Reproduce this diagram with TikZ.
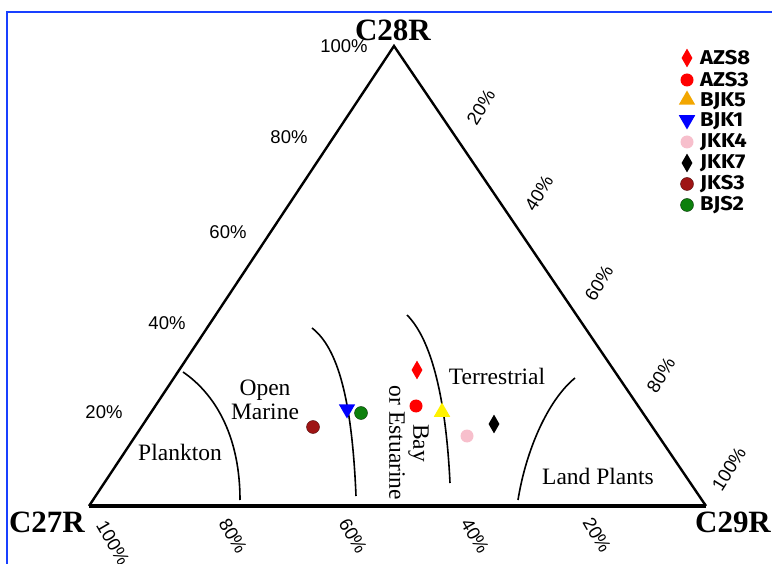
\documentclass[tikz,border=0pt]{standalone}
\usepackage{fontspec}
\setmainfont{Liberation Serif}
\newfontfamily\pctfont{Liberation Sans}
\newfontfamily\lgdfont[FakeStretch=1.1]{Fira Sans}
\usepackage{tikz}
\usetikzlibrary{positioning, shapes.geometric}
\definecolor{frameblue}{rgb}{0.1,0.25,1.0}
\definecolor{darkred}{rgb}{0.62,0.08,0.08}
\definecolor{mygreen}{rgb}{0.05,0.5,0.05}
\definecolor{myorange}{rgb}{0.95,0.65,0.0}
\definecolor{mypink}{rgb}{0.97,0.75,0.8}
\tikzstyle{vert}=[%
      font=\fontsize{31}{33}\selectfont\bfseries, inner sep=0pt
]
\tikzstyle{pct}=[%
      font=\pctfont\fontsize{18.5}{20}\selectfont, inner sep=0pt
]
\tikzstyle{fld}=[%
      font=\fontsize{23.5}{24}\selectfont, inner sep=0pt, align=center
]
\tikzstyle{lgd}=[%
      font=\lgdfont\bfseries\fontsize{20}{21}\selectfont, inner sep=0pt, anchor=west
]
\tikzstyle{dot}=[circle, inner sep=0pt, minimum size=13pt, draw=none]
\tikzstyle{rhomb}=[diamond, inner sep=0pt, minimum width=11pt, minimum height=19pt, draw=none]
\tikzstyle{tri}=[regular polygon, regular polygon sides=3, inner sep=0pt, minimum size=19pt, draw=none]
\tikzstyle{bound}=[black, line width=1.6pt]

\begin{document}
\begin{tikzpicture}[x=1pt, y=-1pt]
    \useasboundingbox (0,0) rectangle (772,564);
    \draw[frameblue, line width=2pt] (7,564) -- (7,12) -- (772,12);

    % corners
    \coordinate (a27) at (89,506);
    \coordinate (a29) at (706,506);
    \coordinate (a28) at (394,46);
    \draw[line width=2.4pt, line join=miter] (a29) -- (a28) -- (a27);
    \draw[line width=3.4pt] (a27) -- (a29);

    \node[vert] (c28r) at (393,30) {C28R};
    \node[vert] (c27r) at (47,522) {C27R};
    \node[vert] (c29r) at (733,522) {C29R};

    % axis labels
    \node[pct] (l100) at (344,46) {100\%};
    \node[pct] (l80) at (289,137) {80\%};
    \node[pct] (l60) at (228,232) {60\%};
    \node[pct] (l40) at (167,323) {40\%};
    \node[pct] (l20) at (104,412) {20\%};

    \node[pct, rotate=58] (r20) at (481,107) {20\%};
    \node[pct, rotate=58] (r40) at (539,193) {40\%};
    \node[pct, rotate=58] (r60) at (599,283) {60\%};
    \node[pct, rotate=58] (r80) at (661,375) {80\%};
    \node[pct, rotate=58] (r100) at (729,469) {100\%};

    \node[pct, rotate=-60] (b100) at (113,543) {100\%};
    \node[pct, rotate=-60] (b80) at (233,536) {80\%};
    \node[pct, rotate=-60] (b60) at (353,536) {60\%};
    \node[pct, rotate=-60] (b40) at (475,536) {40\%};
    \node[pct, rotate=-60] (b20) at (597,535) {20\%};

    % field boundaries
    \draw[bound] (183,372) .. controls (218,396) and (240,440) .. (240,500);
    \draw[bound] (312,328) .. controls (338,348) and (352,400) .. (356,496);
    \draw[bound] (407,315) .. controls (432,340) and (446,400) .. (450,483);
    \draw[bound] (575,378) .. controls (548,400) and (526,450) .. (518,500);

    \node[fld] (plankton) at (180,452) {Plankton};
    \node[fld] (openmar) at (265,400) {Open\\Marine};
    \node[fld] (terr) at (497,376) {Terrestrial};
    \node[fld, rotate=-90] (bay) at (409,443) {Bay\\or Estuarine};
    \node[fld] (landpl) at (598,476) {Land Plants};

    % samples
    \node[rhomb, fill=red] (azs8) at (417,370) {};
    \node[dot, fill=red] (azs3) at (416,406) {};
    \node[tri, fill=yellow] (bjk5) at (442,412) {};
    \node[tri, shape border rotate=180, fill=blue] (bjk1) at (347,409) {};
    \node[dot, fill=mygreen, draw=black!60!mygreen, thin] (bjs2) at (361,413) {};
    \node[dot, fill=darkred, draw=black!50!darkred, thin] (jks3) at (313,427) {};
    \node[dot, fill=mypink] (jkk4) at (467,436) {};
    \node[rhomb, fill=black] (jkk7) at (494,424) {};

    % legend
    \node[rhomb, fill=red] (mazs8) at (687,58) {};
    \node[dot, fill=red] (mazs3) at (687,80) {};
    \node[tri, fill=myorange] (mbjk5) at (687,100) {};
    \node[tri, shape border rotate=180, fill=blue] (mbjk1) at (687,120) {};
    \node[dot, fill=mypink] (mjkk4) at (687,142) {};
    \node[rhomb, fill=black] (mjkk7) at (687,163) {};
    \node[dot, fill=darkred, draw=black!50!darkred, thin] (mjks3) at (687,184) {};
    \node[dot, fill=mygreen, draw=black!60!mygreen, thin] (mbjs2) at (687,205) {};

    \node[lgd] (tazs8) at (700,58) {AZS8};
    \node[lgd] (tazs3) at (700,80) {AZS3};
    \node[lgd] (tbjk5) at (700,101) {BJK5};
    \node[lgd] (tbjk1) at (700,121) {BJK1};
    \node[lgd] (tjkk4) at (700,142) {JKK4};
    \node[lgd] (tjkk7) at (700,163) {JKK7};
    \node[lgd] (tjks3) at (700,184) {JKS3};
    \node[lgd] (tbjs2) at (700,205) {BJS2};
\end{tikzpicture}
\end{document}
